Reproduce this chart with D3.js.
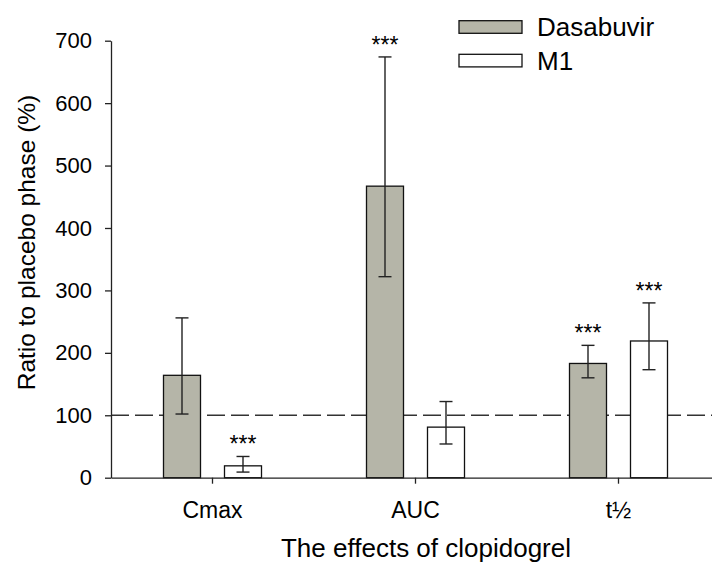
<!DOCTYPE html>
<html>
<head>
<meta charset="utf-8">
<script src="https://cdn.jsdelivr.net/npm/d3@7/dist/d3.min.js"></script>
<style>
  body { margin: 0; background: #fff; }
  svg text { font-family: "Liberation Sans", Arial, sans-serif; fill: #000; }
</style>
</head>
<body>
<svg id="chart" width="712" height="564"></svg>
<script>
const categories = ["Cmax", "AUC", "t\u00bd"]
const series = ["Dasabuvir", "M1"]
// geometric mean ratio and CI ends
const dasabuvirMean = [164, 467, 183]
const dasabuvirLow = [102, 322, 160]
const dasabuvirHigh = [256, 674, 212]
const m1Mean = [19, 81, 219]
const m1Low = [9, 54, 173]
const m1High = [34, 122, 280]
const dasabuvirStars = [false, true, true]
const m1Stars = [true, false, true]
const yTicks = [0, 100, 200, 300, 400, 500, 600, 700]
const reference = 100

const fills = { Dasabuvir: "#b5b5a8", M1: "#ffffff" }

const rows = []
categories.forEach((c, i) => {
  rows.push({ cat: c, s: "Dasabuvir", v: dasabuvirMean[i], lo: dasabuvirLow[i], hi: dasabuvirHigh[i], star: dasabuvirStars[i] })
  rows.push({ cat: c, s: "M1", v: m1Mean[i], lo: m1Low[i], hi: m1High[i], star: m1Stars[i] })
})

const svg = d3.select("#chart")
const plotLeft = 111, plotRight = 720, plotTop = 40.7, plotBottom = 477.7

const x0 = d3.scaleBand().domain(categories).range([plotLeft, plotRight])
const bw = x0.bandwidth()
const x1 = d3.scaleBand().domain(series).range([bw / 2 - 49, bw / 2 + 49]).paddingInner(24 / 61)
const y = d3.scaleLinear().domain([0, 700]).range([plotBottom, plotTop])

// reference line at 100 %
svg.append("line")
  .attr("x1", plotLeft).attr("x2", 712)
  .attr("y1", y(reference)).attr("y2", y(reference))
  .attr("stroke", "#333").attr("stroke-width", 1.4)
  .attr("stroke-dasharray", "18,6")

const g = svg.selectAll("g.bar").data(rows).enter().append("g").attr("class", "bar")

g.append("rect")
  .attr("x", (d) => x0(d.cat) + x1(d.s))
  .attr("y", (d) => y(d.v))
  .attr("width", x1.bandwidth())
  .attr("height", (d) => y(0) - y(d.v))
  .attr("fill", (d) => fills[d.s])
  .attr("stroke", "#111").attr("stroke-width", 1.3)

const cx = (d) => x0(d.cat) + x1(d.s) + x1.bandwidth() / 2

g.append("line")
  .attr("x1", cx).attr("x2", cx)
  .attr("y1", (d) => y(d.lo)).attr("y2", (d) => y(d.hi))
  .attr("stroke", "#222").attr("stroke-width", 1.4)
;["lo", "hi"].forEach((k) => {
  g.append("line")
    .attr("x1", (d) => cx(d) - 6.5).attr("x2", (d) => cx(d) + 6.5)
    .attr("y1", (d) => y(d[k])).attr("y2", (d) => y(d[k]))
    .attr("stroke", "#222").attr("stroke-width", 1.4)
})

g.filter((d) => d.star).append("text")
  .attr("x", cx)
  .attr("y", (d) => y(d.hi) - 4)
  .attr("text-anchor", "middle")
  .style("font-size", "23px")
  .text("***")

// axes
const xAxis = svg.append("g")
  .attr("transform", `translate(0,${plotBottom})`)
  .call(d3.axisBottom(x0).tickSize(6).tickSizeOuter(0))
xAxis.selectAll("text").attr("y", 40).attr("dy", 0).style("font-size", "23px")

const yAxis = svg.append("g")
  .attr("transform", `translate(${plotLeft},0)`)
  .call(d3.axisLeft(y).tickValues(yTicks).tickSize(6).tickSizeOuter(0))
yAxis.selectAll("text").attr("x", -19).style("font-size", "22px")

svg.selectAll(".domain, .tick line").attr("stroke", "#222").attr("stroke-width", 1.3)

svg.append("text")
  .attr("x", 426).attr("y", 557)
  .attr("text-anchor", "middle")
  .style("font-size", "26px")
  .text("The effects of clopidogrel")

svg.append("text")
  .attr("transform", "translate(35,242.5) rotate(-90)")
  .attr("text-anchor", "middle")
  .style("font-size", "24.5px")
  .text("Ratio to placebo phase (%)")

// legend
const legend = svg.selectAll("g.legend").data(series).enter().append("g")
  .attr("class", "legend")
  .attr("transform", (d, i) => `translate(459,${20.7 + i * 33.6})`)
legend.append("rect")
  .attr("width", 63).attr("height", 12.6)
  .attr("fill", (d) => fills[d])
  .attr("stroke", "#111").attr("stroke-width", 1.3)
legend.append("text")
  .attr("x", 78).attr("y", 15.5)
  .style("font-size", "26px")
  .text((d) => d)
</script>
</body>
</html>
